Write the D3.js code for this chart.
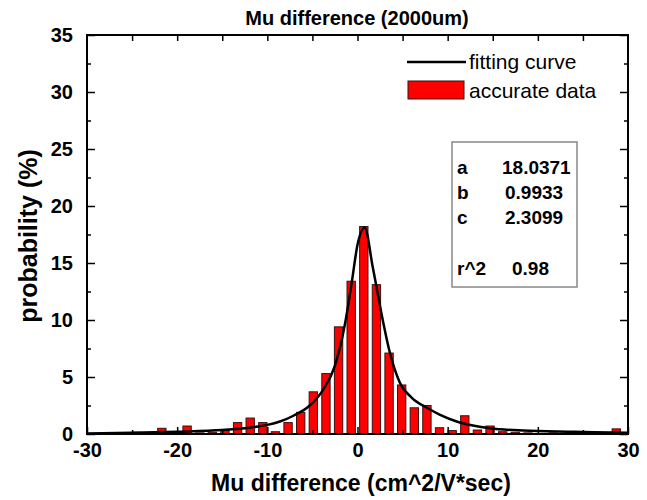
<!DOCTYPE html>
<html>
<head>
<meta charset="utf-8">
<script src="https://cdn.jsdelivr.net/npm/d3@7"></script>
<style>
  body { margin: 0; background: #fff; }
  text { font-family: "Liberation Sans", Arial, sans-serif; }
</style>
</head>
<body>
<div id="chart"></div>
<script>
// histogram bin centres and heights (%)
var binCenters = [-28.7, -27.3, -25.9, -24.5, -23.1, -21.7, -20.3, -18.9, -17.5, -16.1,
  -14.7, -13.3, -11.9, -10.5, -9.1, -7.7, -6.3, -4.9, -3.5, -2.1, -0.7,
  0.7, 2.1, 3.5, 4.9, 6.3, 7.7, 9.1, 10.5, 11.9, 13.3, 14.7, 16.1,
  17.5, 18.9, 20.3, 21.7, 23.1, 24.5, 25.9, 27.3, 28.7];
var binValues = [0.05, 0.05, 0.05, 0.15, 0.05, 0.5, 0.05, 0.7, 0.1, 0.15,
  0.3, 1.0, 1.4, 1.0, 0.2, 1.0, 1.9, 3.7, 5.3, 9.4, 13.4,
  18.2, 13.1, 7.1, 4.3, 2.3, 2.5, 0.55, 0.3, 1.6, 0.35, 0.7, 0.2,
  0.15, 0.1, 0.05, 0.1, 0.05, 0.1, 0.05, 0.05, 0.45];
var binWidth = 1.4;

// fitting curve, points
var curveX = [-30, -25, -20, -15, -12, -10, -8.6, -7.1, -5.3, -3.8, -2.5, -1.4, -0.6, 0.0, 0.8,
  1.7, 2.8, 3.6, 4.7, 6.0, 7.7, 9.1, 11, 12.8, 14.7, 18.4, 24, 30];
var curveY = [0.05, 0.1, 0.2, 0.35, 0.55, 0.8, 1.1, 1.6, 2.5, 3.9, 6.0, 9.6, 13.5, 16.6, 18.1,
  14.6, 10.0, 7.1, 4.5, 3.2, 2.3, 1.7, 1.1, 0.75, 0.5, 0.3, 0.2, 0.1];

var xTicks = [-30, -20, -10, 0, 10, 20, 30];
var yTicks = [0, 5, 10, 15, 20, 25, 30, 35];
var fitLabels = ["a", "b", "c", "r^2"];
var fitValues = ["18.0371", "0.9933", "2.3099", "0.98"];

var width = 647, height = 500;
var svg = d3.select("#chart").append("svg")
  .attr("width", width)
  .attr("height", height);

var x = d3.scaleLinear().domain([-30, 30]).range([87, 628]);
var y = d3.scaleLinear().domain([0, 35]).range([434, 35]);

// bars
svg.selectAll("rect.bar")
  .data(binCenters)
  .enter().append("rect")
  .attr("class", "bar")
  .attr("x", (d, i) => x(d - binWidth * 0.33))
  .attr("width", x(binWidth * 0.66) - x(0))
  .attr("y", (d, i) => y(binValues[i]))
  .attr("height", (d, i) => y(0) - y(binValues[i]))
  .attr("fill", "#ff0000")
  .attr("stroke", "#3a1010")
  .attr("stroke-width", 1);

// fitting curve
var pts = curveX.map((d, i) => [d, curveY[i]]);
svg.append("path")
  .datum(pts)
  .attr("fill", "none")
  .attr("stroke", "#000")
  .attr("stroke-width", 2.5)
  .attr("d", d3.line().x(d => x(d[0])).y(d => y(d[1])).curve(d3.curveMonotoneX));

// axes (ticks point inward)
function styleAxis(g) {
  g.select(".domain").remove();
  g.selectAll("line").attr("stroke", "#000").attr("stroke-width", 1.5);
  g.selectAll("text").attr("font-size", 20).attr("font-weight", "bold").attr("fill", "#000");
}
svg.append("g").attr("transform", "translate(0,434)")
  .call(d3.axisBottom(x).tickValues(xTicks).tickSizeInner(-7).tickSizeOuter(0).tickPadding(9).tickFormat(d => String(d)))
  .call(styleAxis);
svg.append("g").attr("transform", "translate(0,434)")
  .call(d3.axisBottom(x).tickValues([-25, -15, -5, 5, 15, 25]).tickSizeInner(-4).tickSizeOuter(0).tickFormat(""))
  .call(styleAxis);
svg.append("g").attr("transform", "translate(0,35)")
  .call(d3.axisTop(x).tickValues(d3.range(-25, 30, 5)).tickSizeInner(-6).tickSizeOuter(0).tickFormat(""))
  .call(styleAxis);
svg.append("g").attr("transform", "translate(87,0)")
  .call(d3.axisLeft(y).tickValues(yTicks).tickSizeInner(-8).tickSizeOuter(0).tickPadding(14))
  .call(styleAxis);
svg.append("g").attr("transform", "translate(87,0)")
  .call(d3.axisLeft(y).tickValues(d3.range(2.5, 35, 5)).tickSizeInner(-4).tickSizeOuter(0).tickFormat(""))
  .call(styleAxis);
svg.append("g").attr("transform", "translate(628,0)")
  .call(d3.axisRight(y).tickValues(yTicks).tickSizeInner(-8).tickSizeOuter(0).tickFormat(""))
  .call(styleAxis);
svg.append("g").attr("transform", "translate(628,0)")
  .call(d3.axisRight(y).tickValues(d3.range(2.5, 35, 5)).tickSizeInner(-4).tickSizeOuter(0).tickFormat(""))
  .call(styleAxis);

// frame
svg.append("rect")
  .attr("x", 87).attr("y", 35)
  .attr("width", 628 - 87).attr("height", 434 - 35)
  .attr("fill", "none")
  .attr("stroke", "#000")
  .attr("stroke-width", 2);

// titles
svg.append("text")
  .attr("x", 357).attr("y", 25)
  .attr("text-anchor", "middle")
  .attr("font-size", 20).attr("font-weight", "bold")
  .text("Mu difference (2000um)");

svg.append("text")
  .attr("x", 361).attr("y", 491)
  .attr("text-anchor", "middle")
  .attr("font-size", 23).attr("font-weight", "bold")
  .text("Mu difference (cm^2/V*sec)");

svg.append("text")
  .attr("transform", "translate(37,236) rotate(-90)")
  .attr("text-anchor", "middle")
  .attr("font-size", 25).attr("font-weight", "bold")
  .text("probability (%)");

// legend
svg.append("line")
  .attr("x1", 407).attr("x2", 466).attr("y1", 62).attr("y2", 62)
  .attr("stroke", "#000").attr("stroke-width", 2.5);
svg.append("text")
  .attr("x", 469).attr("y", 69)
  .attr("font-size", 21)
  .text("fitting curve");
svg.append("rect")
  .attr("x", 408).attr("y", 81).attr("width", 56).attr("height", 18)
  .attr("fill", "#ff0000").attr("stroke", "#3a1010").attr("stroke-width", 1);
svg.append("text")
  .attr("x", 469).attr("y", 98)
  .attr("font-size", 21)
  .text("accurate data");

// fit parameters box
svg.append("rect")
  .attr("x", 452).attr("y", 142).attr("width", 125).attr("height", 145)
  .attr("fill", "none").attr("stroke", "#888").attr("stroke-width", 1.5);
var rowY = [174, 199, 224, 275];
var valX = [502, 505, 505, 512];
fitLabels.forEach(function(l, i) {
  svg.append("text").attr("x", 457).attr("y", rowY[i])
    .attr("font-size", 19).attr("font-weight", "bold").text(l);
  svg.append("text").attr("x", valX[i]).attr("y", rowY[i])
    .attr("font-size", 19).attr("font-weight", "bold").text(fitValues[i]);
});
</script>
</body>
</html>
